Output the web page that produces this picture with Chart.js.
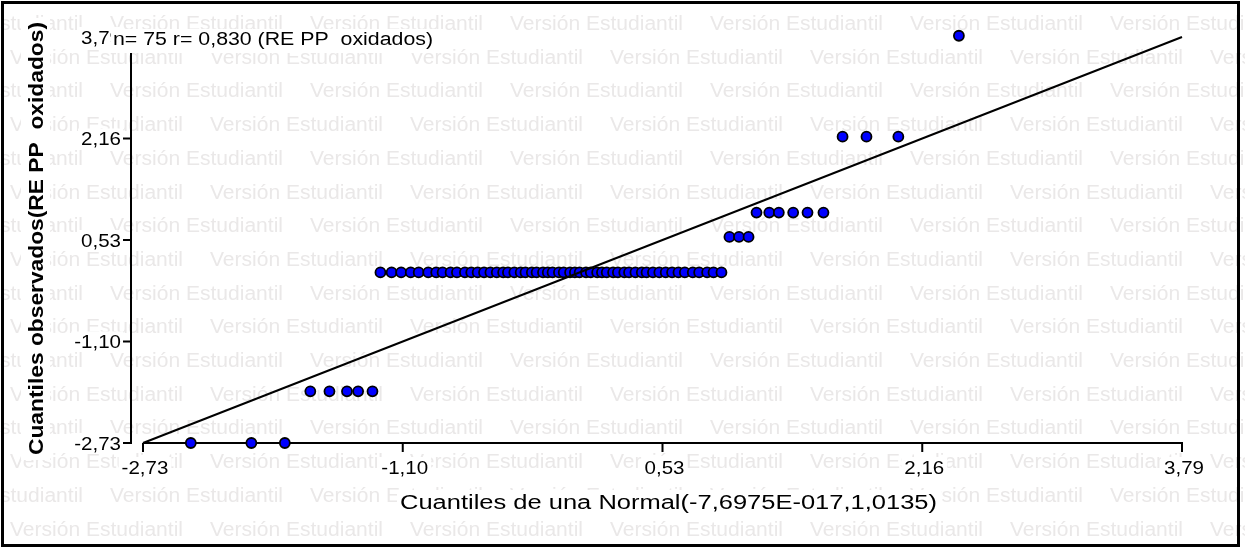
<!DOCTYPE html>
<html>
<head>
<meta charset="utf-8">
<script src="https://cdn.jsdelivr.net/npm/chart.js"></script>
<style>
  html, body { margin: 0; padding: 0; background: #fff; }
  canvas { display: block; }
</style>
</head>
<body>
<canvas id="qq" width="1245" height="548"></canvas>
<script>
// ticks (same on both axes)
const tickValues = [-2.73, -1.10, 0.53, 2.16, 3.79];
const tickLabels = ['-2,73', '-1,10', '0,53', '2,16', '3,79'];

// theoretical quantiles (x) and observed quantiles (y)
const qx = [
  -2.43, -2.05, -1.84,
  -1.68, -1.56, -1.45, -1.38, -1.29,
  -1.24, -1.17, -1.11, -1.05, -1.00, -0.94, -0.89, -0.85, -0.80, -0.76,
  -0.71, -0.67, -0.63, -0.59, -0.55, -0.51, -0.47, -0.44, -0.40, -0.36,
  -0.33, -0.29, -0.26, -0.22, -0.19, -0.16, -0.12, -0.09, -0.05, -0.02,
  0.01, 0.05, 0.08, 0.12, 0.15, 0.18, 0.22, 0.25, 0.29, 0.32,
  0.36, 0.40, 0.43, 0.47, 0.51, 0.55, 0.59, 0.63, 0.67, 0.72,
  0.76, 0.81, 0.85, 0.90,
  0.95, 1.01, 1.07,
  1.12, 1.20, 1.26, 1.35, 1.44, 1.54,
  1.66, 1.81, 2.01,
  2.39
];
const qy = [
  -2.73, -2.73, -2.73,
  -1.90, -1.90, -1.90, -1.90, -1.90,
  0.01, 0.01, 0.01, 0.01, 0.01, 0.01, 0.01, 0.01, 0.01, 0.01,
  0.01, 0.01, 0.01, 0.01, 0.01, 0.01, 0.01, 0.01, 0.01, 0.01,
  0.01, 0.01, 0.01, 0.01, 0.01, 0.01, 0.01, 0.01, 0.01, 0.01,
  0.01, 0.01, 0.01, 0.01, 0.01, 0.01, 0.01, 0.01, 0.01, 0.01,
  0.01, 0.01, 0.01, 0.01, 0.01, 0.01, 0.01, 0.01, 0.01, 0.01,
  0.01, 0.01, 0.01, 0.01,
  0.58, 0.58, 0.58,
  0.97, 0.97, 0.97, 0.97, 0.97, 0.97,
  2.19, 2.19, 2.19,
  3.81
];

// reference line y = x
const lineX = [-2.73, 3.79];
const lineY = [-2.73, 3.79];

const titleText = 'n= 75 r= 0,830 (RE PP  oxidados)';
const xTitle = 'Cuantiles de una Normal(-7,6975E-017,1,0135)';
const yTitle = 'Cuantiles observados(RE PP  oxidados)';
const watermark = 'Versión Estudiantil';

const FONT = '"Liberation Sans", Arial, sans-serif';

// draws text squeezed/stretched to a given width (left aligned, alphabetic baseline)
function fitText(ctx, text, left, baseline, font, width) {
  ctx.font = font;
  const w = ctx.measureText(text).width;
  ctx.save();
  ctx.translate(left, baseline);
  ctx.scale(width / w, 1);
  ctx.textAlign = 'left';
  ctx.textBaseline = 'alphabetic';
  ctx.fillText(text, 0, 0);
  ctx.restore();
}

function whiteBox(ctx, x0, y0, x1, y1) {
  ctx.fillStyle = '#fff';
  ctx.fillRect(x0, y0, x1 - x0, y1 - y0);
}

const background = {
  id: 'background',
  beforeDraw(chart) {
    const ctx = chart.ctx;
    ctx.save();
    ctx.fillStyle = '#fff';
    ctx.fillRect(0, 0, chart.width, chart.height);
    ctx.fillStyle = '#eae8e8';
    for (let r = 0; r < 17; r++) {
      const base = 30 + r * 33.7;
      const start = (r % 2 === 0 ? 110 : 10) - 200;
      for (let x = start; x < chart.width; x += 200) {
        fitText(ctx, watermark, x, base, '20px ' + FONT, 173);
      }
    }
    ctx.restore();
  }
};

const axes = {
  id: 'axes',
  beforeDatasetsDraw(chart) {
    const ctx = chart.ctx;
    const xs = chart.scales.x, ys = chart.scales.y;
    const area = chart.chartArea;
    const yAxisX = area.left - 12;
    ctx.save();
    ctx.strokeStyle = '#000';
    ctx.lineWidth = 2;
    ctx.beginPath();
    ctx.moveTo(yAxisX, area.top);
    ctx.lineTo(yAxisX, area.bottom + 1);
    ctx.moveTo(area.left, area.bottom);
    ctx.lineTo(area.right + 1, area.bottom);
    tickValues.forEach(v => {
      const py = ys.getPixelForValue(v);
      ctx.moveTo(yAxisX - 8, py);
      ctx.lineTo(yAxisX, py);
      const px = xs.getPixelForValue(v);
      ctx.moveTo(px, area.bottom);
      ctx.lineTo(px, area.bottom + 9);
    });
    ctx.stroke();
    ctx.restore();
  },
  afterDatasetsDraw(chart) {
    const ctx = chart.ctx;
    const xs = chart.scales.x, ys = chart.scales.y;
    const area = chart.chartArea;
    const sx = 1.14;
    ctx.save();
    ctx.font = '18px ' + FONT;
    // y tick labels
    tickLabels.forEach((t, i) => {
      const py = ys.getPixelForValue(tickValues[i]);
      const w = ctx.measureText(t).width * sx;
      const right = area.left - 22;
      whiteBox(ctx, right - w - 3, py - 10, right + 2, py + 10);
      ctx.fillStyle = '#000';
      fitText(ctx, t, right - w, py + 6.5, '18px ' + FONT, w);
    });
    // x tick labels
    tickLabels.forEach((t, i) => {
      const px = xs.getPixelForValue(tickValues[i]) + 2;
      ctx.font = '18px ' + FONT;
      const w = ctx.measureText(t).width * sx;
      whiteBox(ctx, px - w / 2 - 3, area.bottom + 14, px + w / 2 + 3, area.bottom + 35);
      ctx.fillStyle = '#000';
      fitText(ctx, t, px - w / 2, area.bottom + 31, '18px ' + FONT, w);
    });
    // top title
    whiteBox(ctx, 111, 29, 445, 53);
    ctx.fillStyle = '#000';
    fitText(ctx, titleText, 113, 45, '18px ' + FONT, 320);
    // x axis title
    whiteBox(ctx, 397, 490, 941, 516);
    ctx.fillStyle = '#000';
    fitText(ctx, xTitle, 400, 509, '20px ' + FONT, 537);
    // y axis title
    whiteBox(ctx, 21, 18, 50, 460);
    ctx.save();
    ctx.translate(43, 455);
    ctx.rotate(-Math.PI / 2);
    ctx.fillStyle = '#000';
    fitText(ctx, yTitle, 0, 0, 'bold 21px ' + FONT, 433);
    ctx.restore();
    ctx.restore();
  },
  afterDraw(chart) {
    const ctx = chart.ctx;
    ctx.save();
    ctx.strokeStyle = '#000';
    ctx.lineWidth = 3;
    ctx.strokeRect(2.5, 2.5, 1236, 543);
    ctx.restore();
  }
};

new Chart(document.getElementById('qq'), {
  type: 'scatter',
  data: {
    datasets: [
      {
        type: 'line',
        data: lineX.map((x, i) => ({ x: x, y: lineY[i] })),
        borderColor: '#000',
        borderWidth: 2,
        pointRadius: 0,
        fill: false,
        order: 0,
        clip: false
      },
      {
        data: qx.map((x, i) => ({ x: x, y: qy[i] })),
        backgroundColor: '#0000ff',
        borderColor: '#000',
        borderWidth: 1.8,
        pointRadius: 5,
        order: 1,
        clip: false
      }
    ]
  },
  options: {
    responsive: false,
    animation: false,
    layout: { padding: { left: 143, right: 63, top: 37, bottom: 105 } },
    plugins: {
      legend: { display: false },
      tooltip: { enabled: false }
    },
    scales: {
      x: { type: 'linear', min: -2.73, max: 3.79, display: false },
      y: { type: 'linear', min: -2.73, max: 3.79, display: false }
    }
  },
  plugins: [background, axes]
});
</script>
</body>
</html>
